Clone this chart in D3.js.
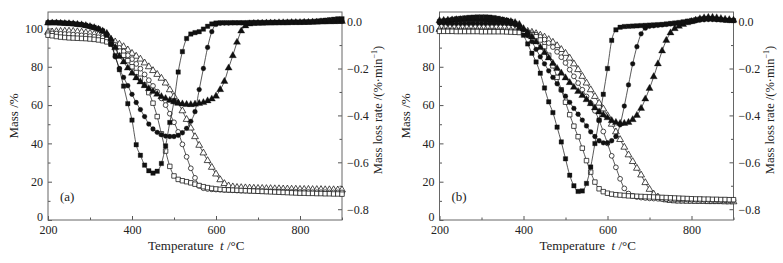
<!DOCTYPE html>
<html>
<head>
<meta charset="utf-8">
<script src="https://cdnjs.cloudflare.com/ajax/libs/d3/7.8.5/d3.min.js"></script>
<style>
body{margin:0;background:#fff;}
svg text{font-family:"Liberation Serif","Times New Roman",serif;fill:#222;}
</style>
</head>
<body>
<svg id="chart" width="783" height="263"></svg>
<script>
// temperature grid, t / C
var temps = [200,210,220,230,240,250,260,270,280,290,
             300,310,320,330,340,350,360,370,380,390,
             400,410,420,430,440,450,460,470,480,490,
             500,510,520,530,540,550,560,570,580,590,
             600,610,620,630,640,650,660,670,680,690,
             700,710,720,730,740,750,760,770,780,790,
             800,810,820,830,840,850,860,870,880,890,
             900];

// panel (a) - mass %, open markers
var massA_square = [96.5,96.2,95.8,95.5,95.3,95.1,95.0,94.9,94.8,94.7,
                    94.5,94.3,94.0,93.6,93.0,91.8,90.0,88.2,86.0,83.2,
                    80.0,77.0,74.0,70.5,66.5,61.0,54.0,45.0,36.0,28.0,
                    23.0,21.2,20.5,20.0,19.4,18.7,18.0,17.4,16.9,16.5,
                    16.2,16.0,15.8,15.7,15.6,15.5,15.4,15.3,15.2,15.1,
                    15.0,14.9,14.8,14.7,14.6,14.5,14.4,14.3,14.2,14.1,
                    14.0,14.0,13.9,13.9,13.8,13.8,13.7,13.7,13.6,13.6,
                    13.5];
var massA_circle = [97.5,97.4,97.3,97.2,97.1,97.0,96.8,96.6,96.4,96.2,
                    96.0,95.7,95.4,95.0,94.5,93.3,91.5,89.8,88.0,86.0,
                    84.0,81.5,79.0,76.0,73.0,70.0,67.0,63.5,60.0,55.5,
                    51.0,46.0,39.5,33.0,27.0,22.0,17.8,16.6,16.2,16.0,
                    15.9,15.8,15.7,15.6,15.5,15.4,15.3,15.3,15.2,15.2,
                    15.1,15.1,15.0,15.0,14.9,14.9,14.8,14.8,14.7,14.7,
                    14.6,14.6,14.6,14.5,14.5,14.5,14.5,14.4,14.4,14.4,
                    14.4];
var massA_triangle = [98.0,98.2,98.4,98.5,98.6,98.6,98.5,98.3,98.1,97.8,
                      97.5,97.1,96.6,96.0,95.2,94.2,93.0,91.8,90.5,88.8,
                      87.0,85.5,84.0,82.0,80.0,78.0,76.0,74.0,71.5,68.0,
                      64.5,61.0,57.0,52.5,48.0,43.5,39.0,35.0,31.0,27.5,
                      24.0,21.0,19.0,17.8,17.3,17.0,16.9,16.8,16.7,16.6,
                      16.5,16.5,16.4,16.4,16.3,16.3,16.2,16.2,16.1,16.1,
                      16.0,16.0,16.0,15.9,15.9,15.9,15.8,15.8,15.8,15.7,
                      15.7];

// panel (a) - mass loss rate %/min, filled markers
var rateA_square = [-0.005,-0.004,-0.004,-0.005,-0.006,-0.007,-0.009,-0.011,-0.013,-0.016,
                    -0.020,-0.025,-0.031,-0.040,-0.058,-0.095,-0.145,-0.205,-0.275,-0.350,
                    -0.420,-0.525,-0.570,-0.612,-0.636,-0.646,-0.638,-0.605,-0.530,-0.430,
                    -0.340,-0.215,-0.128,-0.072,-0.053,-0.047,-0.043,-0.032,-0.020,-0.010,
                    -0.006,-0.005,-0.005,-0.005,-0.005,-0.005,-0.005,-0.005,-0.004,-0.004,
                    -0.004,-0.004,-0.004,-0.003,-0.003,-0.003,-0.003,-0.002,-0.002,-0.002,
                    -0.002,-0.001,-0.001,0.000,0.002,0.004,0.006,0.008,0.010,0.012,
                    0.012];
var rateA_circle = [-0.004,-0.004,-0.004,-0.005,-0.006,-0.007,-0.009,-0.011,-0.013,-0.016,
                    -0.020,-0.025,-0.031,-0.040,-0.055,-0.095,-0.150,-0.200,-0.238,-0.273,
                    -0.310,-0.345,-0.375,-0.405,-0.437,-0.458,-0.472,-0.482,-0.488,-0.490,
                    -0.490,-0.485,-0.474,-0.455,-0.425,-0.384,-0.290,-0.200,-0.110,-0.043,
                    -0.012,-0.007,-0.006,-0.006,-0.005,-0.005,-0.005,-0.005,-0.005,-0.004,
                    -0.004,-0.004,-0.004,-0.004,-0.003,-0.003,-0.003,-0.003,-0.002,-0.002,
                    -0.002,-0.002,-0.001,-0.001,0.000,0.000,0.000,0.001,0.001,0.001,
                    0.001];
var rateA_triangle = [-0.006,-0.006,-0.006,-0.007,-0.008,-0.009,-0.010,-0.012,-0.014,-0.017,
                      -0.021,-0.026,-0.032,-0.040,-0.050,-0.075,-0.110,-0.148,-0.172,-0.198,
                      -0.220,-0.240,-0.257,-0.273,-0.286,-0.298,-0.310,-0.320,-0.328,-0.336,
                      -0.342,-0.347,-0.351,-0.353,-0.354,-0.352,-0.349,-0.345,-0.338,-0.330,
                      -0.318,-0.290,-0.255,-0.198,-0.145,-0.088,-0.040,-0.018,-0.010,-0.008,
                      -0.007,-0.007,-0.006,-0.006,-0.006,-0.005,-0.005,-0.005,-0.004,-0.004,
                      -0.004,-0.003,-0.003,-0.002,-0.002,-0.001,-0.001,0.000,0.000,0.001,
                      0.001];

// panel (b) - mass %
var massB_square = [98.5,98.5,98.5,98.5,98.4,98.4,98.4,98.4,98.4,98.4,
                    98.3,98.3,98.3,98.3,98.3,98.3,98.2,98.1,98.0,97.9,
                    97.7,97.3,96.7,95.7,94.0,90.5,86.0,80.5,74.5,68.0,
                    61.5,55.0,49.0,43.5,37.5,31.0,25.0,19.8,16.3,14.8,
                    14.0,13.5,13.2,13.0,12.8,12.6,12.5,12.4,12.3,12.2,
                    12.1,12.0,11.9,11.8,11.7,11.6,11.5,11.4,11.3,11.2,
                    11.1,11.0,11.0,10.9,10.9,10.8,10.8,10.7,10.7,10.6,
                    10.6];
var massB_circle = [99.0,99.0,99.0,99.0,99.0,98.9,98.9,98.9,98.9,98.9,
                    98.8,98.8,98.8,98.8,98.7,98.7,98.6,98.6,98.5,98.4,
                    98.3,98.0,97.5,96.7,95.6,94.2,92.4,90.3,87.8,85.0,
                    82.0,78.5,75.0,71.5,68.0,64.5,61.0,57.0,52.0,46.2,
                    40.0,33.5,27.5,21.5,16.5,13.8,12.6,12.0,11.7,11.5,
                    11.3,11.2,11.1,11.0,10.9,10.9,10.8,10.8,10.7,10.7,
                    10.6,10.6,10.5,10.5,10.5,10.4,10.4,10.4,10.3,10.3,
                    10.3];
var massB_triangle = [99.5,99.5,99.5,99.5,99.4,99.4,99.4,99.4,99.4,99.3,
                      99.3,99.3,99.2,99.2,99.2,99.1,99.1,99.0,99.0,98.9,
                      98.8,98.5,98.0,97.3,96.5,95.5,94.2,92.8,91.0,89.0,
                      87.0,84.5,81.5,78.5,75.0,71.5,68.0,64.5,61.0,58.0,
                      54.5,50.0,46.0,42.0,38.0,34.0,30.5,27.0,23.5,19.5,
                      16.0,13.5,12.0,11.0,10.5,10.2,10.0,9.9,9.9,9.8,
                      9.8,9.7,9.7,9.7,9.6,9.6,9.6,9.6,9.5,9.5,
                      9.5];

// panel (b) - mass loss rate %/min
var rateB_square = [0.000,0.003,0.006,0.009,0.012,0.014,0.016,0.018,0.019,0.020,
                    0.020,0.020,0.019,0.017,0.014,0.010,0.006,0.001,-0.008,-0.025,
                    -0.058,-0.095,-0.135,-0.172,-0.220,-0.283,-0.342,-0.388,-0.450,-0.513,
                    -0.585,-0.655,-0.700,-0.724,-0.722,-0.690,-0.620,-0.520,-0.420,-0.310,
                    -0.200,-0.080,-0.035,-0.024,-0.021,-0.020,-0.019,-0.018,-0.017,-0.016,
                    -0.015,-0.014,-0.013,-0.012,-0.010,-0.008,-0.006,-0.004,-0.001,0.002,
                    0.005,0.008,0.011,0.013,0.013,0.012,0.010,0.008,0.006,0.005,
                    0.004];
var rateB_circle = [-0.006,-0.007,-0.008,-0.008,-0.008,-0.008,-0.008,-0.008,-0.008,-0.008,
                    -0.008,-0.008,-0.008,-0.008,-0.008,-0.008,-0.009,-0.010,-0.013,-0.020,
                    -0.035,-0.060,-0.085,-0.118,-0.150,-0.180,-0.210,-0.238,-0.265,-0.292,
                    -0.318,-0.344,-0.370,-0.395,-0.420,-0.445,-0.470,-0.490,-0.508,-0.517,
                    -0.517,-0.508,-0.490,-0.440,-0.360,-0.270,-0.180,-0.107,-0.052,-0.028,
                    -0.020,-0.018,-0.016,-0.014,-0.012,-0.010,-0.008,-0.006,-0.004,-0.002,
                    0.000,0.003,0.006,0.008,0.009,0.009,0.008,0.007,0.006,0.005,
                    0.005];
var rateB_triangle = [0.004,0.005,0.006,0.007,0.008,0.008,0.009,0.009,0.009,0.009,
                      0.009,0.008,0.007,0.006,0.005,0.004,0.002,0.000,-0.004,-0.012,
                      -0.030,-0.047,-0.065,-0.087,-0.110,-0.132,-0.155,-0.178,-0.200,-0.220,
                      -0.240,-0.260,-0.280,-0.298,-0.315,-0.333,-0.350,-0.368,-0.385,-0.398,
                      -0.410,-0.422,-0.430,-0.434,-0.434,-0.430,-0.418,-0.400,-0.370,-0.330,
                      -0.285,-0.235,-0.180,-0.125,-0.080,-0.048,-0.030,-0.020,-0.012,-0.005,
                      0.000,0.006,0.012,0.016,0.018,0.018,0.016,0.013,0.010,0.008,
                      0.006];

// ticks
var xTicks = [200,400,600,800];
var xMinor = [300,500,700,900];
var massTicks = [0,20,40,60,80,100];
var massMinor = [10,30,50,70,90];
var rateTicks = [0,-0.2,-0.4,-0.6,-0.8];
var rateMinor = [-0.1,-0.3,-0.5,-0.7];

var svg = d3.select("#chart");

function drawPanel(left, tag, masses, rates){
    var width = 294, top = 12, bottom = 220;

    var x = d3.scaleLinear().domain([200,900]).range([left, left+width]);
    var yMass = d3.scaleLinear().domain([0,108.6]).range([bottom, top]);
    var yRate = d3.scaleLinear().domain([-0.846,0.041]).range([bottom, top]);

    var g = svg.append("g");

    // axes, ticks pointing in
    function axis(gen, tr){
        var a = g.append("g").attr("transform", tr).call(gen);
        a.select(".domain").remove();
        a.selectAll("line").attr("stroke","#555");
        a.selectAll("text").style("font-size","12px").style("font-family",'"Liberation Serif",serif').attr("fill","#222");
        return a;
    }
    axis(d3.axisBottom(x).tickValues(xTicks).tickSize(-4).tickPadding(5), "translate(0,"+bottom+")");
    axis(d3.axisBottom(x).tickValues(xMinor).tickSize(-2.5).tickFormat(""), "translate(0,"+bottom+")");
    var ml = axis(d3.axisLeft(yMass).tickValues(massTicks).tickSize(-4).tickPadding(5), "translate("+left+",0)");
    // the 0 label sits just above the 200 label
    ml.selectAll("text").filter(function(d){ return d === 0; }).attr("y", -3);
    axis(d3.axisLeft(yMass).tickValues(massMinor).tickSize(-2.5).tickFormat(""), "translate("+left+",0)");
    axis(d3.axisRight(yRate).tickValues(rateTicks).tickSize(-4).tickPadding(5).tickFormat(d3.format(".1f")), "translate("+(left+width)+",0)");
    axis(d3.axisRight(yRate).tickValues(rateMinor).tickSize(-2.5).tickFormat(""), "translate("+(left+width)+",0)");

    g.append("rect")
        .attr("x", left).attr("y", top)
        .attr("width", width).attr("height", bottom-top)
        .attr("fill","none").attr("stroke","#666").attr("stroke-width",1);

    function series(vals, yScale, type, size, filled){
        var pts = temps.map(function(t,i){ return [t, vals[i]]; });
        var line = d3.line()
            .x(function(d){ return x(d[0]); })
            .y(function(d){ return yScale(d[1]); })
            .curve(d3.curveMonotoneX);
        g.append("path").datum(pts)
            .attr("d", line)
            .attr("fill","none").attr("stroke","#111").attr("stroke-width",0.7);
        g.append("g").selectAll("path")
            .data(pts).enter().append("path")
            .attr("transform", function(d){ return "translate("+x(d[0])+","+yScale(d[1])+")"; })
            .attr("d", d3.symbol().type(type).size(size))
            .attr("fill", filled ? "#111" : "#fff")
            .attr("stroke", "#111")
            .attr("stroke-width", filled ? 0.3 : 0.75);
    }

    // TG curves (left axis)
    series(masses[2], yMass, d3.symbolTriangle, 20, false);
    series(masses[1], yMass, d3.symbolCircle, 18, false);
    series(masses[0], yMass, d3.symbolSquare, 20, false);
    // DTG curves (right axis)
    series(rates[2], yRate, d3.symbolTriangle, 22, true);
    series(rates[1], yRate, d3.symbolCircle, 18, true);
    series(rates[0], yRate, d3.symbolSquare, 20, true);

    // labels
    g.append("text")
        .attr("transform","translate("+(left-30)+","+((top+bottom)/2)+") rotate(-90)")
        .attr("text-anchor","middle")
        .style("font-size","13px")
        .text("Mass /%");

    var rl = g.append("text")
        .attr("transform","translate("+(left+width+40)+","+110+") rotate(-90)")
        .attr("text-anchor","middle")
        .style("font-size","12.5px");
    rl.append("tspan").text("Mass loss rate /(%\u00b7min");
    rl.append("tspan").attr("dy","-5").style("font-size","8px").text("\u22121");
    rl.append("tspan").attr("dy","5").text(")");

    var xl = g.append("text")
        .attr("x", left+100).attr("y", 250)
        .style("font-size","13px");
    xl.append("tspan").text("Temperature");
    xl.append("tspan").attr("x", left+172).style("font-style","italic").text("t");
    xl.append("tspan").text(" /\u00b0C");

    g.append("text")
        .attr("x", left+12).attr("y", 201)
        .style("font-size","13px")
        .text(tag);
}

drawPanel(48, "(a)", [massA_square, massA_circle, massA_triangle], [rateA_square, rateA_circle, rateA_triangle]);
drawPanel(439.5, "(b)", [massB_square, massB_circle, massB_triangle], [rateB_square, rateB_circle, rateB_triangle]);
</script>
</body>
</html>
